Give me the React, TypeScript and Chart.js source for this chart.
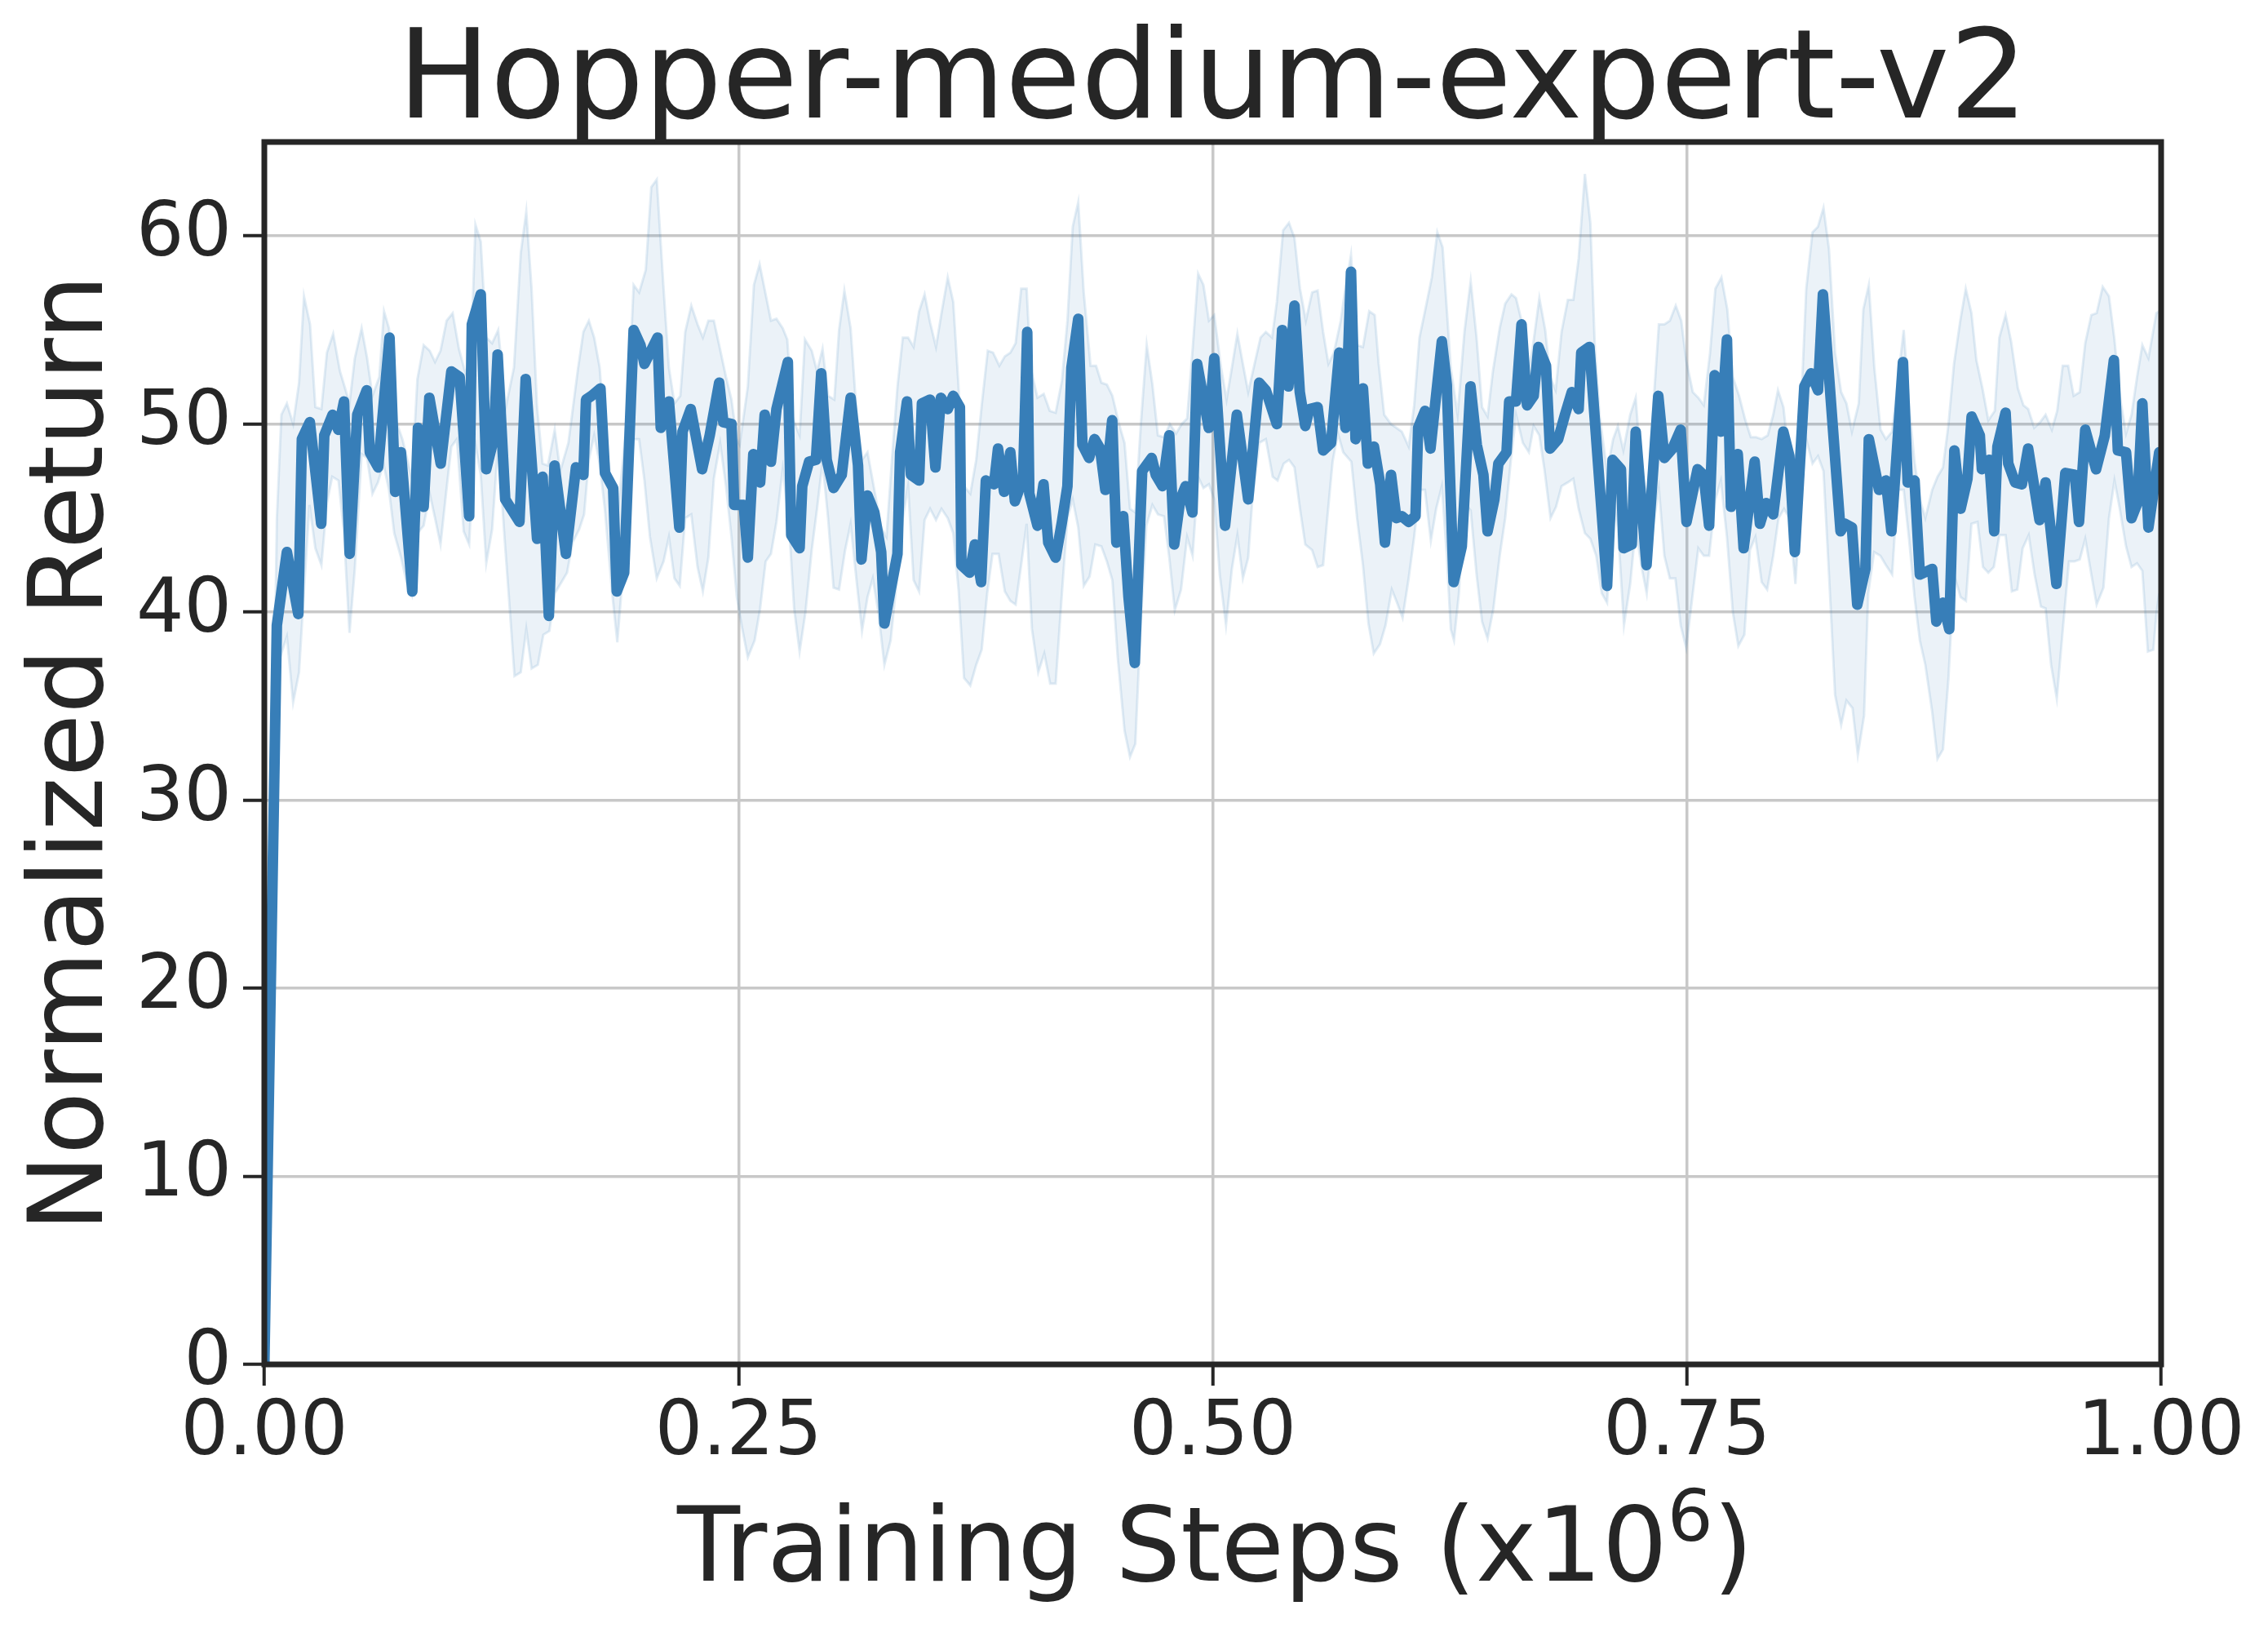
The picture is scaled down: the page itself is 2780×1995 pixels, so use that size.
import React, { useEffect, useRef } from 'react';
import { Chart, registerables } from 'chart.js';
Chart.register(...registerables);

const TITLE = 'Hopper-medium-expert-v2';
const X_LABEL_MAIN = 'Training Steps (x10';
const X_LABEL_SUP = '6';
const X_LABEL_END = ')';
const Y_LABEL = 'Normalized Return';
const Y_TICKS = [0, 10, 20, 30, 40, 50, 60];
const X_TICKS = [0, 0.25, 0.5, 0.75, 1.0];

const MEAN_X = [0.000,0.0066,0.0119,0.0179,0.0198,0.0240,0.0300,0.0316,0.0360,0.0390,0.0420,0.0450,0.0490,0.0540,0.0556,0.0600,0.0660,0.0690,0.0720,0.0780,0.0810,0.0840,0.0870,0.0930,0.0986,0.1030,0.1080,0.1094,0.1141,0.1170,0.1209,0.1230,0.1270,0.1345,0.1378,0.1438,0.1467,0.1500,0.1530,0.1590,0.1643,0.1682,0.1696,0.1725,0.1772,0.1796,0.1839,0.1858,0.1897,0.1947,0.1983,0.2004,0.2073,0.2090,0.2133,0.2188,0.2205,0.2248,0.2308,0.2348,0.2398,0.2420,0.2463,0.2477,0.2528,0.2549,0.2578,0.2614,0.2638,0.2671,0.2700,0.2760,0.2778,0.2822,0.2836,0.2872,0.2908,0.2936,0.2965,0.3001,0.3044,0.3091,0.3130,0.3148,0.3180,0.3216,0.3252,0.3269,0.3302,0.3338,0.3352,0.3388,0.3409,0.3452,0.3467,0.3510,0.3538,0.3567,0.3603,0.3632,0.3667,0.3675,0.3718,0.3746,0.3779,0.3804,0.3847,0.3868,0.3900,0.3933,0.3957,0.4000,0.4022,0.4033,0.4076,0.4108,0.4133,0.4172,0.4205,0.4234,0.4255,0.4291,0.4313,0.4348,0.4377,0.4406,0.4434,0.4470,0.4492,0.4528,0.4556,0.4589,0.4628,0.4678,0.4700,0.4735,0.4771,0.4797,0.4829,0.4857,0.4893,0.4918,0.4979,0.5008,0.5065,0.5127,0.5187,0.5245,0.5280,0.5338,0.5366,0.5399,0.5431,0.5459,0.5488,0.5510,0.5553,0.5582,0.5624,0.5667,0.5700,0.5729,0.5753,0.5792,0.5818,0.5850,0.5883,0.5908,0.5940,0.5968,0.5997,0.6033,0.6069,0.6083,0.6119,0.6148,0.6208,0.6234,0.6270,0.6313,0.6359,0.6392,0.6427,0.6449,0.6485,0.6506,0.6549,0.6563,0.6599,0.6628,0.6657,0.6692,0.6717,0.6757,0.6778,0.6821,0.6857,0.6893,0.6929,0.6943,0.6986,0.7079,0.7108,0.7152,0.7166,0.7209,0.7230,0.7287,0.7349,0.7381,0.7424,0.7467,0.7498,0.7556,0.7588,0.7617,0.7646,0.7679,0.7711,0.7732,0.7768,0.7799,0.7857,0.7885,0.7918,0.7955,0.8008,0.8040,0.8069,0.8119,0.8155,0.8191,0.8217,0.8310,0.8334,0.8370,0.8398,0.8441,0.8459,0.8513,0.8549,0.8578,0.8639,0.8664,0.8700,0.8728,0.8793,0.8815,0.8850,0.8883,0.8910,0.8943,0.8979,0.9001,0.9044,0.9055,0.9094,0.9120,0.9137,0.9180,0.9194,0.9230,0.9266,0.9299,0.9359,0.9391,0.9448,0.9495,0.9545,0.9567,0.9600,0.9657,0.9703,0.9751,0.9772,0.9815,0.9844,0.9875,0.9901,0.9933,0.9990];
const MEAN_Y = [0.0,39.3,43.2,39.9,49.2,50.1,44.7,49.4,50.5,49.7,51.2,43.1,50.5,51.8,48.5,47.7,54.6,46.4,48.5,41.1,49.8,45.6,51.4,47.9,52.8,52.5,45.1,55.3,56.9,47.6,49.2,53.7,46.0,44.8,52.4,43.9,47.2,39.8,47.8,43.1,47.7,47.3,51.3,51.5,51.9,47.4,46.6,41.1,42.1,55.0,54.2,53.2,54.6,49.8,51.2,44.5,49.6,50.8,47.6,49.4,52.2,50.1,50.0,45.7,45.7,42.9,48.4,46.9,50.5,48.0,50.8,53.3,44.1,43.4,46.7,48.0,48.1,52.7,48.1,46.6,47.3,51.4,47.8,42.8,46.2,45.3,43.2,39.4,41.2,43.1,48.5,51.2,47.3,47.0,51.1,51.3,47.7,51.4,50.8,51.5,50.9,42.5,42.1,43.6,41.6,47.0,46.8,48.7,46.4,48.5,45.9,47.1,54.9,46.3,44.6,46.8,43.7,42.9,44.8,46.7,53.0,55.6,48.9,48.2,49.2,48.7,46.5,50.2,43.7,45.1,40.8,37.3,47.5,48.2,47.3,46.7,49.4,43.6,46.0,46.7,45.3,53.2,49.8,53.5,44.6,50.5,46.0,52.2,51.8,50.0,55.0,52.0,56.3,51.7,49.9,50.8,50.9,48.6,49.0,53.8,49.8,58.1,49.2,51.9,47.9,48.8,46.8,43.7,47.3,45.0,45.1,44.8,45.1,49.8,50.7,48.7,54.4,52.1,41.6,43.5,52.0,48.9,47.3,44.3,46.0,47.9,48.5,51.2,51.2,55.3,51.0,51.5,54.1,53.1,48.7,49.2,50.5,51.7,50.8,53.8,54.1,41.4,48.1,47.6,43.4,43.6,49.6,42.5,51.5,48.2,48.7,49.7,44.8,47.6,47.3,44.6,52.6,49.6,54.5,45.6,48.4,43.4,48.0,44.7,45.8,45.2,49.6,48.3,43.2,52.0,52.7,51.8,56.9,44.3,44.7,44.5,40.4,42.3,49.2,46.5,47.0,44.3,53.3,46.9,47.0,42.0,42.3,39.5,40.5,39.1,48.6,45.5,47.1,50.4,49.4,47.6,48.1,44.3,48.8,50.6,47.9,46.9,46.8,48.7,44.9,46.9,41.5,47.4,47.3,44.8,49.7,47.6,49.4,53.4,48.6,48.5,45.0,45.8,51.1,44.5,48.5];

const UPPER_X = [0,0.0066,0.0090,0.0119,0.0152,0.0183,0.0209,0.0241,0.0269,0.0301,0.0330,0.0363,0.0399,0.0420,0.0449,0.0477,0.0513,0.0542,0.0570,0.0606,0.0631,0.0657,0.0693,0.0728,0.0778,0.0807,0.0840,0.0872,0.0900,0.0929,0.0961,0.0993,0.1026,0.1055,0.1084,0.1113,0.1141,0.1170,0.1201,0.1233,0.1273,0.1316,0.1352,0.1381,0.1409,0.1438,0.1467,0.1495,0.1531,0.1560,0.1603,0.1653,0.1682,0.1711,0.1739,0.1768,0.1796,0.1832,0.1861,0.1918,0.1947,0.1976,0.2011,0.2040,0.2069,0.2105,0.2133,0.2162,0.2193,0.2219,0.2251,0.2284,0.2312,0.2341,0.2370,0.2398,0.2434,0.2463,0.2491,0.2506,0.2549,0.2581,0.2611,0.2647,0.2671,0.2700,0.2733,0.2757,0.2786,0.2822,0.2850,0.2886,0.2914,0.2943,0.2972,0.3005,0.3030,0.3058,0.3091,0.3123,0.3151,0.3180,0.3216,0.3252,0.3280,0.3308,0.3338,0.3366,0.3394,0.3423,0.3452,0.3481,0.3510,0.3541,0.3570,0.3603,0.3632,0.3660,0.3689,0.3722,0.3753,0.3782,0.3814,0.3842,0.3875,0.3904,0.3933,0.3961,0.3990,0.4019,0.4040,0.4076,0.4109,0.4141,0.4172,0.4205,0.4234,0.4262,0.4291,0.4320,0.4356,0.4385,0.4413,0.4442,0.4471,0.4506,0.4535,0.4564,0.4592,0.4621,0.4652,0.4682,0.4711,0.4743,0.4774,0.4807,0.4836,0.4865,0.4894,0.4923,0.4951,0.4980,0.5008,0.5044,0.5073,0.5101,0.5130,0.5159,0.5187,0.5216,0.5252,0.5280,0.5313,0.5338,0.5371,0.5402,0.5431,0.5460,0.5491,0.5524,0.5553,0.5582,0.5610,0.5639,0.5675,0.5696,0.5729,0.5761,0.5792,0.5825,0.5854,0.5875,0.5904,0.5940,0.5968,0.5997,0.6033,0.6062,0.6090,0.6119,0.6155,0.6184,0.6212,0.6255,0.6291,0.6327,0.6360,0.6391,0.6420,0.6449,0.6477,0.6513,0.6542,0.6575,0.6599,0.6628,0.6657,0.6686,0.6722,0.6753,0.6779,0.6808,0.6839,0.6872,0.6901,0.6929,0.6962,0.6991,0.7015,0.7039,0.7079,0.7111,0.7136,0.7165,0.7201,0.7230,0.7259,0.7292,0.7323,0.7352,0.7381,0.7410,0.7441,0.7470,0.7496,0.7531,0.7560,0.7589,0.7622,0.7650,0.7682,0.7713,0.7742,0.7775,0.7808,0.7837,0.7865,0.7894,0.7926,0.7955,0.7980,0.8009,0.8040,0.8069,0.8098,0.8129,0.8162,0.8191,0.8220,0.8249,0.8281,0.8313,0.8341,0.8370,0.8406,0.8430,0.8459,0.8488,0.8521,0.8549,0.8582,0.8614,0.8643,0.8671,0.8700,0.8728,0.8757,0.8793,0.8821,0.8850,0.8879,0.8908,0.8941,0.8970,0.9000,0.9026,0.9058,0.9089,0.9123,0.9147,0.9180,0.9209,0.9245,0.9274,0.9299,0.9331,0.9362,0.9391,0.9424,0.9452,0.9481,0.9510,0.9539,0.9571,0.9600,0.9632,0.9660,0.9692,0.9725,0.9754,0.9782,0.9815,0.9844,0.9873,0.9901,0.9933,0.9975,0.9990];
const UPPER_Y = [0,45.0,50.5,51.1,50.0,52.2,56.8,55.3,50.9,50.8,53.8,54.8,52.8,52.1,51.1,53.5,55.1,53.5,51.5,52.5,56.0,55.1,50.2,49.2,47.1,52.4,54.2,53.9,53.3,53.9,55.5,55.9,54.0,52.9,52.1,60.6,59.7,54.6,54.3,55.0,50.9,53.0,59.1,61.3,57.2,50.9,47.9,47.8,49.7,47.5,49.0,52.9,54.9,55.5,54.6,53.0,49.2,46.7,45.0,51.0,57.4,57.0,58.2,62.6,63.0,57.2,53.0,51.1,51.5,54.9,56.3,55.3,54.6,55.5,55.5,54.2,52.5,51.3,49.2,48.9,52.0,57.4,58.5,56.7,55.5,55.6,55.1,54.5,50.3,49.4,54.5,53.9,52.8,54.0,51.5,51.3,55.0,57.1,55.1,50.5,48.1,48.5,46.5,44.5,44.0,48.0,52.0,54.6,54.6,54.1,56.0,56.9,55.4,54.1,55.9,57.8,56.5,52.0,46.7,46.3,48.1,51.0,53.9,53.8,53.1,53.6,53.8,54.3,57.2,57.2,53.0,51.4,51.6,50.7,50.6,52.3,55.5,60.5,61.8,57.0,53.1,53.1,52.2,52.1,51.5,50.0,49.0,45.5,45.3,50.0,54.2,52.1,49.4,49.3,50.0,49.5,50.0,50.3,54.0,58.0,57.4,55.5,55.8,53.0,51.3,53.0,54.8,53.2,51.7,53.0,54.6,54.9,54.6,56.5,60.3,60.7,59.9,57.2,55.5,57.0,57.1,54.9,53.2,53.8,55.5,57.0,59.0,54.2,54.1,56.0,55.8,53.2,50.5,50.0,49.8,49.6,48.8,51.0,54.6,56.0,57.8,60.2,59.4,53.0,50.5,54.9,57.6,54.6,50.9,50.4,52.8,55.1,56.4,56.9,56.7,55.5,52.5,54.0,56.7,55.0,52.5,51.8,54.9,56.6,56.6,58.8,63.3,60.7,54.0,50.5,47.5,49.2,49.9,48.6,50.5,51.4,47.5,46.0,51.0,55.3,55.3,55.5,56.3,55.5,53.4,51.7,51.4,51.0,53.8,57.2,57.8,56.1,52.5,51.5,50.2,49.3,49.3,49.2,49.4,50.5,51.8,50.9,48.0,46.0,50.0,57.2,60.2,60.5,61.5,59.3,53.8,51.7,51.1,49.6,51.1,56.1,57.4,53.0,49.7,49.2,49.6,52.5,55.0,51.0,48.0,46.0,45.0,46.5,47.2,47.7,50.0,53.2,55.5,57.2,55.9,53.4,51.9,50.2,50.7,54.6,55.8,54.4,51.9,51.0,50.8,49.8,50.1,50.5,49.7,50.7,53.1,53.1,51.5,51.7,54.3,55.8,55.9,57.3,56.8,54.5,51.5,49.5,50.5,52.5,54.2,53.5,55.9,56.0];

const LOWER_X = [0,0.0066,0.0083,0.0119,0.0152,0.0183,0.0212,0.0238,0.0269,0.0301,0.0330,0.0358,0.0391,0.0420,0.0449,0.0477,0.0513,0.0542,0.0570,0.0599,0.0628,0.0657,0.0685,0.0721,0.0750,0.0778,0.0807,0.0840,0.0872,0.0900,0.0929,0.0958,0.0986,0.1015,0.1051,0.1080,0.1108,0.1141,0.1170,0.1201,0.1233,0.1266,0.1288,0.1319,0.1352,0.1381,0.1409,0.1442,0.1471,0.1503,0.1531,0.1567,0.1596,0.1625,0.1660,0.1686,0.1711,0.1739,0.1768,0.1796,0.1832,0.1861,0.1890,0.1918,0.1947,0.1976,0.2004,0.2033,0.2069,0.2105,0.2133,0.2162,0.2190,0.2219,0.2251,0.2284,0.2312,0.2341,0.2370,0.2403,0.2434,0.2463,0.2491,0.2520,0.2549,0.2585,0.2614,0.2643,0.2671,0.2700,0.2733,0.2764,0.2793,0.2822,0.2853,0.2886,0.2914,0.2943,0.2972,0.3001,0.3030,0.3062,0.3091,0.3123,0.3151,0.3180,0.3208,0.3237,0.3269,0.3302,0.3338,0.3366,0.3394,0.3423,0.3452,0.3481,0.3510,0.3541,0.3570,0.3603,0.3632,0.3660,0.3689,0.3722,0.3753,0.3782,0.3811,0.3839,0.3871,0.3904,0.3933,0.3961,0.3990,0.4019,0.4047,0.4080,0.4112,0.4143,0.4172,0.4205,0.4234,0.4262,0.4291,0.4320,0.4351,0.4381,0.4413,0.4442,0.4471,0.4499,0.4535,0.4564,0.4592,0.4621,0.4650,0.4682,0.4711,0.4743,0.4771,0.4800,0.4833,0.4865,0.4894,0.4923,0.4951,0.4980,0.5008,0.5037,0.5070,0.5101,0.5130,0.5159,0.5187,0.5209,0.5245,0.5280,0.5316,0.5342,0.5374,0.5402,0.5431,0.5460,0.5488,0.5524,0.5553,0.5582,0.5604,0.5632,0.5660,0.5688,0.5731,0.5761,0.5792,0.5821,0.5849,0.5882,0.5911,0.5944,0.5972,0.6001,0.6033,0.6062,0.6090,0.6119,0.6150,0.6178,0.6208,0.6234,0.6255,0.6272,0.6298,0.6327,0.6360,0.6391,0.6420,0.6449,0.6480,0.6513,0.6542,0.6571,0.6599,0.6635,0.6667,0.6692,0.6722,0.6750,0.6781,0.6810,0.6839,0.6872,0.6901,0.6929,0.6962,0.6991,0.7022,0.7051,0.7079,0.7111,0.7136,0.7168,0.7201,0.7230,0.7259,0.7288,0.7321,0.7352,0.7381,0.7410,0.7439,0.7467,0.7496,0.7531,0.7560,0.7589,0.7617,0.7650,0.7679,0.7711,0.7742,0.7771,0.7803,0.7832,0.7861,0.7894,0.7923,0.7955,0.7983,0.8012,0.8040,0.8072,0.8098,0.8129,0.8162,0.8191,0.8220,0.8249,0.8281,0.8313,0.8341,0.8373,0.8401,0.8434,0.8456,0.8487,0.8520,0.8549,0.8582,0.8611,0.8643,0.8671,0.8700,0.8728,0.8757,0.8793,0.8821,0.8850,0.8879,0.8908,0.8943,0.8971,0.9000,0.9032,0.9061,0.9089,0.9118,0.9147,0.9180,0.9213,0.9242,0.9270,0.9302,0.9333,0.9366,0.9391,0.9420,0.9450,0.9481,0.9514,0.9543,0.9571,0.9600,0.9632,0.9660,0.9696,0.9725,0.9754,0.9782,0.9815,0.9844,0.9873,0.9901,0.9930,0.9959,0.9976,0.9990];
const LOWER_Y = [0,33.0,37.6,38.7,35.2,36.8,41.6,45.7,43.4,42.5,45.8,47.2,47.0,44.2,38.9,42.3,48.4,48.2,46.3,46.9,47.9,46.5,44.2,42.9,41.6,40.9,44.2,44.6,46.3,45.0,43.6,46.3,48.8,49.2,44.3,43.6,49.2,47.3,42.6,44.4,49.0,44.0,41.0,36.6,36.8,39.1,37.0,37.2,38.8,39.0,41.0,41.6,42.1,43.7,44.4,45.2,48.1,49.4,47.9,45.4,41.2,38.4,42.0,46.0,49.2,49.2,47.0,44.0,41.8,42.7,44.0,41.8,41.4,45.0,45.2,42.4,41.1,42.9,47.1,49.0,46.7,44.0,40.8,39.1,37.6,38.5,40.2,42.7,43.1,44.8,47.6,45.0,40.2,37.9,40.0,43.3,45.5,48.0,45.0,41.3,41.2,43.3,44.7,41.6,39.0,40.8,41.8,40.0,37.2,38.5,42.0,45.0,46.7,41.7,41.1,44.9,45.5,44.9,45.5,45.0,44.2,41.2,36.5,36.1,37.2,38.0,41.0,43.1,43.1,41.1,40.6,40.4,42.5,44.7,39.1,36.8,37.8,36.2,36.2,41.0,45.0,46.0,44.5,41.4,41.9,43.6,43.5,42.7,41.7,37.6,33.7,32.3,33.0,39.5,44.6,45.7,45.2,45.1,42.9,40.1,41.2,44.0,43.0,47.2,46.6,46.8,46.0,42.0,39.3,42.3,44.1,41.8,42.9,46.0,49.0,49.2,47.2,47.0,47.9,48.1,47.7,45.5,43.6,43.3,42.4,42.5,45.0,48.0,49.5,48.5,48.0,45.0,42.5,39.4,37.8,38.3,39.3,41.2,40.5,39.7,41.8,44.0,46.5,46.5,43.8,45.5,46.7,43.0,39.1,38.5,41.0,45.8,45.4,42.0,39.5,38.6,40.2,43.0,45.0,48.0,50.5,49.0,48.5,49.9,49.4,47.5,45.0,45.6,46.7,46.9,47.1,45.5,44.2,43.9,43.0,41.0,40.5,46.0,44.5,39.3,41.5,44.5,42.5,41.0,44.5,46.6,43.0,41.8,41.8,39.3,38.1,41.0,43.4,43.0,43.0,46.0,47.0,44.0,40.0,38.2,38.8,43.3,44.0,41.6,41.2,43.0,45.0,45.5,45.0,41.5,45.8,49.2,47.9,48.3,47.5,42.0,35.6,34.0,35.3,34.9,32.4,34.5,41.0,43.2,43.0,42.5,42.0,46.5,46.5,43.9,40.8,38.5,37.2,34.7,32.2,32.7,36.5,42.0,40.8,40.6,44.7,44.8,42.4,42.1,42.4,44.1,44.1,41.1,41.2,43.4,44.1,42.0,40.3,40.2,37.2,35.4,39.0,42.7,42.7,42.8,43.9,42.0,40.4,41.3,45.0,47.0,45.5,43.5,42.4,42.6,42.2,37.9,38.0,40.0,41.0];

const FONT = 'DejaVu Sans';
const TEXT = '#262626';
const LINE = '#377eb8';

export default function App() {
  const ref = useRef<HTMLCanvasElement>(null);
  useEffect(() => {
    if (!ref.current) return;
    const pts = (xs: number[], ys: number[]) => xs.map((x, i) => ({ x, y: ys[i] }));
    const textPlugin = {
      id: 'textLabels',
      afterDraw(chart: any) {
        const { ctx, chartArea } = chart;
        const cx = (chartArea.left + chartArea.right) / 2;
        ctx.save();
        ctx.fillStyle = TEXT;
        ctx.textBaseline = 'alphabetic';
        // chart title
        ctx.font = `151px "${FONT}"`;
        ctx.textAlign = 'center';
        ctx.fillText(TITLE, cx, 144);
        // x-axis title with a raised exponent
        const mainFont = `126px "${FONT}"`;
        const supFont = `88px "${FONT}"`;
        ctx.font = mainFont;
        const w1 = ctx.measureText(X_LABEL_MAIN).width;
        const w3 = ctx.measureText(X_LABEL_END).width;
        ctx.font = supFont;
        const w2 = ctx.measureText(X_LABEL_SUP).width;
        const total = w1 + w2 + w3;
        let x = cx + 3 - total / 2;
        const base = 1937;
        ctx.textAlign = 'left';
        ctx.font = mainFont;
        ctx.fillText(X_LABEL_MAIN, x, base);
        x += w1;
        ctx.font = supFont;
        ctx.fillText(X_LABEL_SUP, x, base - 49);
        x += w2;
        ctx.font = mainFont;
        ctx.fillText(X_LABEL_END, x, base);
        ctx.restore();
      },
    };
    const spinePlugin = {
      id: 'spines',
      afterDatasetsDraw(chart: any) {
        const { ctx, chartArea: a } = chart;
        ctx.save();
        ctx.strokeStyle = TEXT;
        ctx.lineWidth = 7;
        ctx.strokeRect(a.left, a.top, a.right - a.left, a.bottom - a.top);
        ctx.restore();
      },
    };
    const tickFont = { family: FONT, size: 92, lineHeight: 1 };
    const grid = { color: '#c8c8c8', lineWidth: 3.5, tickColor: TEXT, tickWidth: 4, tickLength: 26, drawTicks: true };
    const chart = new Chart(ref.current, {
      type: 'line',
      data: {
        datasets: [
          {
            label: 'mean',
            data: pts(MEAN_X, MEAN_Y),
            borderColor: LINE,
            borderWidth: 13,
            borderJoinStyle: 'round',
            borderCapStyle: 'round',
            pointRadius: 0,
            tension: 0,
            fill: false,
          },
          {
            label: 'upper',
            data: pts(UPPER_X, UPPER_Y),
            borderColor: 'rgba(55,126,184,0.14)',
            borderWidth: 3,
            pointRadius: 0,
            tension: 0,
            fill: '+1',
            backgroundColor: 'rgba(55,126,184,0.1)',
          },
          {
            label: 'lower',
            data: pts(LOWER_X, LOWER_Y),
            borderColor: 'rgba(55,126,184,0.14)',
            borderWidth: 3,
            pointRadius: 0,
            tension: 0,
            fill: false,
          },
        ],
      } as any,
      options: {
        responsive: false,
        devicePixelRatio: 1,
        animation: false,
        parsing: false as any,
        layout: { padding: { top: 174, right: 131, left: 0, bottom: 0 } },
        plugins: { legend: { display: false }, tooltip: { enabled: false }, title: { display: false } },
        scales: {
          x: {
            type: 'linear',
            min: 0,
            max: 1,
            border: { display: false },
            grid: grid as any,
            afterBuildTicks: (s: any) => { s.ticks = X_TICKS.map((v) => ({ value: v })); },
            afterFit: (s: any) => { s.height = 323; },
            ticks: { font: tickFont, color: TEXT, padding: 14, maxRotation: 0, autoSkip: false, callback: (v: any) => Number(v).toFixed(2) },
            title: { display: false },
          },
          y: {
            type: 'linear',
            min: 0,
            max: 65,
            border: { display: false },
            grid: grid as any,
            afterBuildTicks: (s: any) => { s.ticks = Y_TICKS.map((v) => ({ value: v })); },
            afterFit: (s: any) => { s.width = 324; },
            ticks: { font: tickFont, color: TEXT, padding: 14, callback: (v: any) => String(v) },
            title: { display: true, text: Y_LABEL, color: TEXT, font: { family: FONT, size: 126, lineHeight: 1.2 }, padding: { top: 17, bottom: 0 } },
          },
        },
      } as any,
      plugins: [textPlugin, spinePlugin],
    });
    return () => chart.destroy();
  }, []);
  return (
    <canvas
      ref={ref}
      width={2780}
      height={1995}
      style={{ position: 'absolute', left: 0, top: 0, width: 2780, height: 1995 }}
    />
  );
}
